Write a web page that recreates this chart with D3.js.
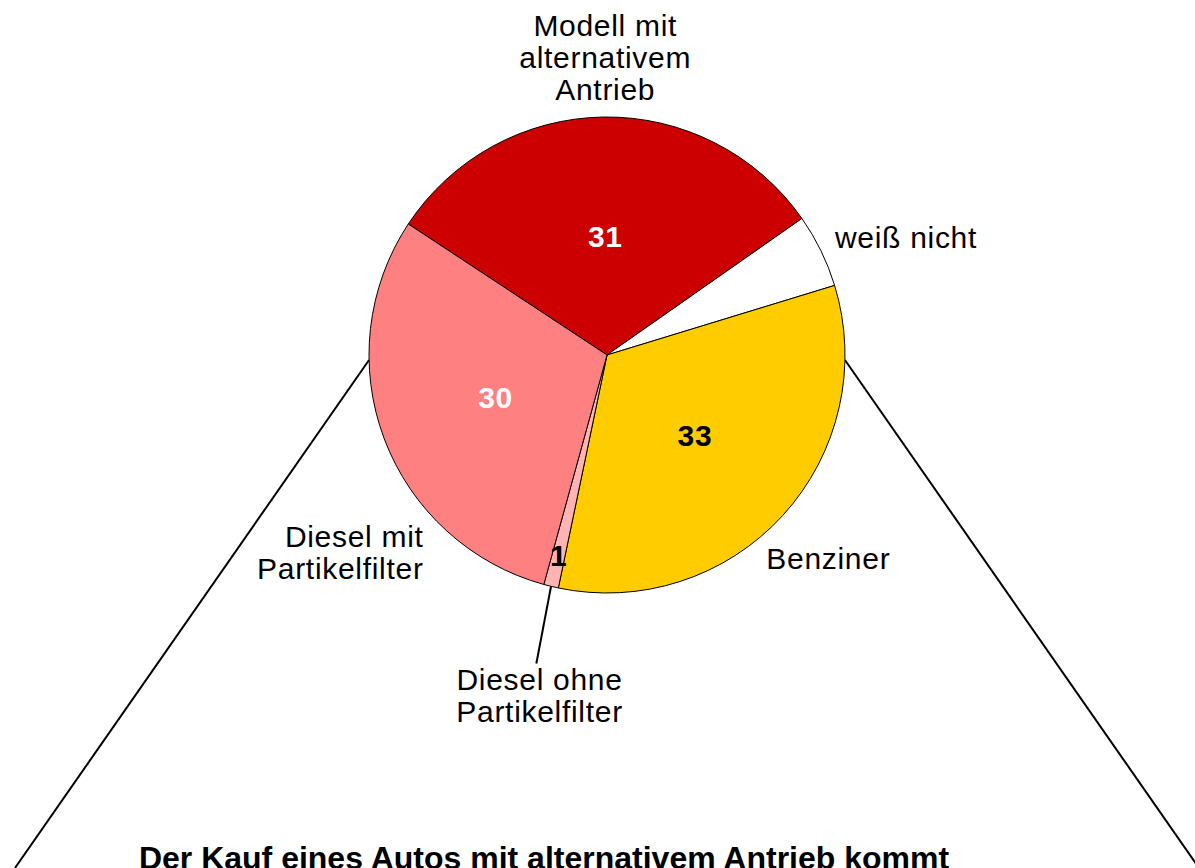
<!DOCTYPE html>
<html>
<head>
<meta charset="utf-8">
<script src="https://cdn.jsdelivr.net/npm/d3@7"></script>
<style>
  body { margin: 0; background: #fff; }
  svg { display: block; }
</style>
</head>
<body>
<div id="chart"></div>
<script>
// slices in clockwise order, starting at the red one
let categories = ["Modell mit alternativem Antrieb", "weiß nicht", "Benziner", "Diesel ohne Partikelfilter", "Diesel mit Partikelfilter"];
let values = [31, 5, 33, 1, 30];
let labelLines = [
  ["Modell mit", "alternativem", "Antrieb"],
  ["weiß nicht"],
  ["Benziner"],
  ["Diesel ohne", "Partikelfilter"],
  ["Diesel mit", "Partikelfilter"]
];
let showValue = [true, false, true, true, true];
let title = "Der Kauf eines Autos mit alternativem Antrieb kommt";

let colors = ["#cc0000", "#ffffff", "#ffcc00", "#ffb3b3", "#ff8080"];
let valueColors = ["#fff", "#000", "#000", "#000", "#fff"];

let width = 1195, height = 868;
let cx = 607, cy = 355, radius = 238;
let font = "'Liberation Sans', Arial, Helvetica, sans-serif";
let fontSize = 30, lineHeight = 32;
let rad = Math.PI / 180;

const svg = d3.select("#chart").append("svg")
    .attr("width", width)
    .attr("height", height)
    .attr("viewBox", [0, 0, width, height]);

// the two lines running out of the pie to the bottom
let spreadAngle = 91.2 * rad;
[-1, 1].forEach(function(side) {
  let a = side * spreadAngle;
  let x0 = cx + radius * Math.sin(a), y0 = cy - radius * Math.cos(a);
  let slope = 0.697;
  let x1 = x0 + side * (height - y0) * slope;
  svg.append("line")
    .attr("x1", x0).attr("y1", y0)
    .attr("x2", x1).attr("y2", height)
    .attr("stroke", "#000")
    .attr("stroke-width", 2);
});

let pie = d3.pie()
  .sort(null)
  .value(d => d)
  .startAngle(-56.6 * rad)
  .endAngle(-56.6 * rad + 2 * Math.PI);

let arcs = pie(values);

let arc = d3.arc().innerRadius(0).outerRadius(radius);

const g = svg.append("g").attr("transform", `translate(${cx},${cy})`);

g.selectAll("path")
  .data(arcs)
  .join("path")
    .attr("d", arc)
    .attr("fill", (d, i) => colors[i])
    .attr("stroke", "#000")
    .attr("stroke-width", 1)
    .attr("stroke-linejoin", "round");

let mid = d => (d.startAngle + d.endAngle) / 2;
let polar = (a, r) => [r * Math.sin(a), -r * Math.cos(a)];

// values inside the slices
g.selectAll("text.value")
  .data(arcs)
  .join("text")
    .attr("class", "value")
    .attr("transform", function(d) {
      let p = d.value < 3 ? polar(mid(d), radius * 0.865) : arc.centroid(d);
      return `translate(${p[0]},${p[1]})`;
    })
    .attr("dy", "0.36em")
    .attr("text-anchor", "middle")
    .attr("font-family", font)
    .attr("font-weight", "bold")
    .attr("font-size", fontSize)
    .attr("letter-spacing", 0.6)
    .attr("fill", (d, i) => valueColors[i])
    .text((d, i) => showValue[i] ? d.value : "");

// leader line for the thin slice
let thin = arcs[3];
let l0 = polar(mid(thin), radius), l1 = polar(mid(thin) - 0.7 * rad, radius * 1.33);
g.append("line")
  .attr("x1", l0[0]).attr("y1", l0[1])
  .attr("x2", l1[0]).attr("y2", l1[1])
  .attr("stroke", "#000")
  .attr("stroke-width", 2);

// outside labels: angle offset from slice middle, radius factor, anchor, first baseline offset
let labelLayout = [
  { da: 0.4, rf: 1.07, anchor: "middle", dy: -2 * lineHeight },
  { da: -1.5, rf: 1.08, anchor: "start", dy: 12 },
  { da: 9.5, rf: 1.085, anchor: "start", dy: 11 },
  { da: -1.3, rf: 1.33, anchor: "middle", dy: 26 },
  { da: -26.4, rf: 1.13, anchor: "end", dy: -5 }
];

arcs.forEach(function(d, i) {
  let lay = labelLayout[i];
  let p = polar(mid(d) + lay.da * rad, radius * lay.rf);
  let t = g.append("text")
    .attr("x", p[0])
    .attr("y", p[1] + lay.dy)
    .attr("text-anchor", lay.anchor)
    .attr("font-family", font)
    .attr("font-size", fontSize)
    .attr("letter-spacing", 0.7)
    .attr("fill", "#000");
  labelLines[i].forEach(function(line, j) {
    t.append("tspan")
      .attr("x", p[0])
      .attr("dy", j === 0 ? 0 : lineHeight)
      .text(line);
  });
});

// heading of the next part, cut off by the bottom edge
svg.append("text")
  .attr("x", 544)
  .attr("y", 869)
  .attr("text-anchor", "middle")
  .attr("font-family", font)
  .attr("font-weight", "bold")
  .attr("font-size", 32)
  .text(title);
</script>
</body>
</html>
